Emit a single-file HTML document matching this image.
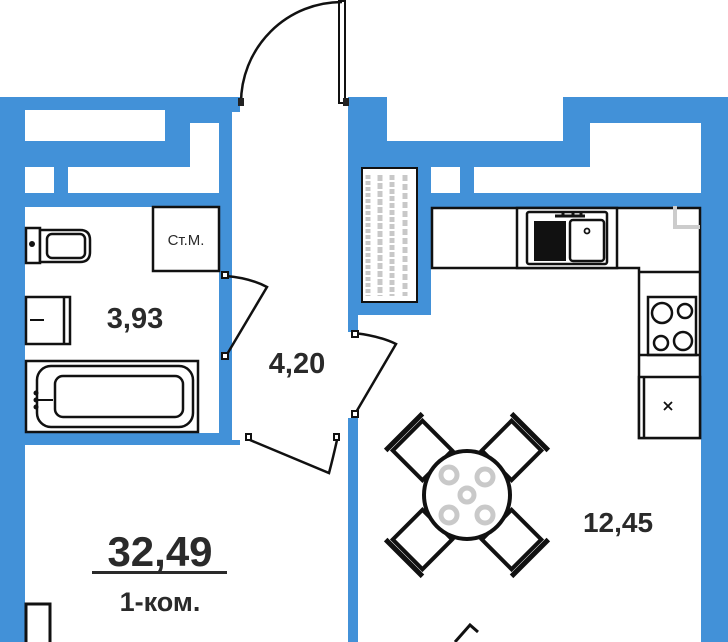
<!DOCTYPE html>
<html><head><meta charset="utf-8"><style>
html,body{margin:0;padding:0;background:#fff;}
svg{display:block;}
text{font-family:"Liberation Sans",sans-serif;fill:#2a2a2a;}
.b{font-weight:bold;}
</style></head><body>
<svg width="728" height="642" viewBox="0 0 728 642" xmlns="http://www.w3.org/2000/svg">
<g fill="#4291d8">
  <rect x="0" y="97" width="240" height="545"/>
  <rect x="348" y="97" width="380" height="545"/>
</g>
<g fill="#fff">
  <rect x="232" y="112" width="116" height="328"/>
  <rect x="240" y="97" width="108" height="20"/>
  <rect x="25" y="110" width="140" height="31"/>
  <rect x="190" y="123" width="29" height="70"/>
  <rect x="25" y="167" width="29" height="26"/>
  <rect x="68" y="167" width="151" height="26"/>
  <rect x="25" y="207" width="194" height="226"/>
  <rect x="25" y="445" width="323" height="197"/>
  <rect x="245" y="433" width="92" height="14"/>
  <rect x="387" y="90" width="176" height="51"/>
  <rect x="590" y="123" width="111" height="70"/>
  <rect x="431" y="167" width="29" height="26"/>
  <rect x="474" y="167" width="116" height="26"/>
  <rect x="431" y="207" width="270" height="435"/>
  <rect x="358" y="315" width="80" height="327"/>
  <rect x="348" y="332" width="12" height="86"/>
</g>
<rect x="362" y="168" width="55" height="134" fill="#fff" stroke="#111" stroke-width="2"/>
<g stroke="#c8c8c8" stroke-width="5">
  <line x1="368" y1="175" x2="368" y2="296" stroke-dasharray="4 2"/>
  <line x1="380" y1="175" x2="380" y2="296" stroke-dasharray="6 2"/>
  <line x1="392" y1="175" x2="392" y2="296" stroke-dasharray="5 2"/>
  <line x1="405" y1="175" x2="405" y2="296" stroke-dasharray="6 3"/>
</g>
<g fill="none" stroke="#111" stroke-width="2.5">
  <path d="M241 103 A101 101 0 0 1 342 2"/>
  <rect x="339" y="1" width="6" height="102" stroke-width="2"/>
  <path d="M226 276 Q250 278 267 287 L226 356"/>
  <path d="M354 333 Q380 336 396 344 L355 414"/>
  <path d="M250 440 L329 473 Q333 458 337 440"/>
</g>
<g fill="#fff" stroke="#111" stroke-width="2">
  <rect x="222" y="272" width="6" height="6"/><rect x="222" y="353" width="6" height="6"/>
  <rect x="352" y="331" width="6" height="6"/><rect x="352" y="411" width="6" height="6"/>
  <rect x="246" y="434" width="5" height="6"/><rect x="334" y="434" width="5" height="6"/>
</g>
<rect x="238" y="98" width="6" height="8" fill="#222"/>
<rect x="343" y="98" width="6" height="8" fill="#222"/>
<g fill="#fff" stroke="#111" stroke-width="2.5">
  <rect x="153" y="207" width="66" height="64"/>
  <rect x="26" y="228" width="14" height="35"/>
  <path d="M40 230 H80 Q90 230 90 240 V252 Q90 262 80 262 H40 Z"/>
  <rect x="47" y="234" width="38" height="24" rx="5"/>
  <rect x="26" y="297" width="44" height="47"/>
  <line x1="64" y1="297" x2="64" y2="344"/>
  <rect x="26" y="361" width="172" height="71"/>
  <rect x="37" y="366" width="156" height="61" rx="14"/>
  <rect x="55" y="376" width="128" height="41" rx="8"/>
</g>
<line x1="30" y1="320" x2="44" y2="320" stroke="#111" stroke-width="2"/>
<circle cx="32" cy="244" r="3" fill="#111"/>
<g fill="#111"><circle cx="36" cy="393" r="2.5"/><circle cx="36" cy="400" r="2.5"/><circle cx="36" cy="407" r="2.5"/></g>
<line x1="36" y1="400" x2="53" y2="400" stroke="#111" stroke-width="2"/>
<text x="186" y="245" font-size="15" text-anchor="middle" fill="#111">Ст.М.</text>
<g fill="#fff" stroke="#111" stroke-width="2.5">
  <path d="M432 208 H700 V438 H639 V268 H432 Z"/>
  <rect x="517" y="208" width="100" height="60"/>
  <rect x="527" y="212" width="80" height="52" rx="2"/>
  <rect x="570" y="220" width="34" height="41" rx="3"/>
  <line x1="639" y1="272" x2="700" y2="272"/>
  <rect x="648" y="297" width="48" height="58"/>
  <line x1="639" y1="355" x2="700" y2="355"/>
  <rect x="639" y="377" width="61" height="61"/>
  <line x1="644" y1="377" x2="644" y2="438"/>
  <circle cx="662" cy="313" r="10"/><circle cx="685" cy="311" r="7"/>
  <circle cx="661" cy="343" r="7"/><circle cx="683" cy="341" r="9"/>
</g>
<rect x="534" y="221" width="32" height="40" fill="#111"/>
<circle cx="587" cy="231" r="2.5" fill="none" stroke="#111" stroke-width="1.8"/>
<path d="M555 216 h30 M563 211 v5 M573 211 v5 M581 211 v5" stroke="#111" stroke-width="3"/>
<path d="M675 206 V227 H700" fill="none" stroke="#ccc" stroke-width="4"/>
<path d="M664 402 l8 8 M672 402 l-8 8" stroke="#111" stroke-width="1.8"/>
<g transform="translate(467 495)">
  <g fill="#fff" stroke="#111" stroke-width="4">
    <g transform="rotate(-45)"><rect x="-21" y="-84" width="42" height="42"/><line x1="-26" y1="-89" x2="26" y2="-89" stroke-width="5"/></g>
    <g transform="rotate(45)"><rect x="-21" y="-84" width="42" height="42"/><line x1="-26" y1="-89" x2="26" y2="-89" stroke-width="5"/></g>
    <g transform="rotate(135)"><rect x="-21" y="-84" width="42" height="42"/><line x1="-26" y1="-89" x2="26" y2="-89" stroke-width="5"/></g>
    <g transform="rotate(225)"><rect x="-21" y="-84" width="42" height="42"/><line x1="-26" y1="-89" x2="26" y2="-89" stroke-width="5"/></g>
    <ellipse cx="0" cy="0" rx="43" ry="44"/>
  </g>
  <g fill="none" stroke="#c9c9c9" stroke-width="5">
    <circle cx="-18" cy="-20" r="8"/><circle cx="18" cy="-18" r="8"/>
    <circle cx="-18" cy="20" r="8"/><circle cx="18" cy="20" r="8"/>
    <circle cx="0" cy="0" r="7"/>
  </g>
</g>
<path d="M455 642 L470 625 L478 632" fill="none" stroke="#111" stroke-width="3"/>
<rect x="26" y="604" width="24" height="40" fill="#fff" stroke="#111" stroke-width="3"/>
<text class="b" x="135" y="328" font-size="29" text-anchor="middle">3,93</text>
<text class="b" x="297" y="373" font-size="29" text-anchor="middle">4,20</text>
<text class="b" x="618" y="532" font-size="28" text-anchor="middle">12,45</text>
<text class="b" x="160" y="566" font-size="42" text-anchor="middle">32,49</text>
<rect x="92" y="571" width="135" height="3" fill="#2a2a2a"/>
<text class="b" x="160" y="611" font-size="27" text-anchor="middle">1-ком.</text>
</svg>
</body></html>
